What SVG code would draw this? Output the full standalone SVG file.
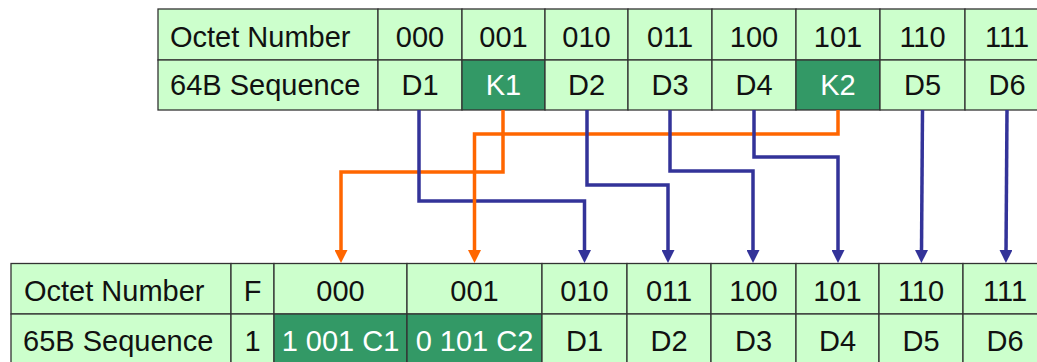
<svg xmlns="http://www.w3.org/2000/svg" width="1037" height="362" viewBox="0 0 1037 362">
<style>
.c{fill:#ccffcc;stroke:#333333;stroke-width:1.3}
.k{fill:#339966;stroke:#333333;stroke-width:1.3}
.t{font-family:"Liberation Sans",Arial,sans-serif;font-size:29px;fill:#111111}
.tm{text-anchor:middle}
.w{fill:#ffffff}
.b{fill:none;stroke:#333399;stroke-width:3.5}
.o{fill:none;stroke:#ff6600;stroke-width:3.5}
</style>
<defs>
<marker id="ab" viewBox="0 0 13 13" refX="2" refY="6.5" markerWidth="13" markerHeight="13" markerUnits="userSpaceOnUse" orient="auto"><path d="M0,0 L13,6.5 L0,13 z" fill="#333399"/></marker>
<marker id="ao" viewBox="0 0 13 13" refX="2" refY="6.5" markerWidth="13" markerHeight="13" markerUnits="userSpaceOnUse" orient="auto"><path d="M0,0 L13,6.5 L0,13 z" fill="#ff6600"/></marker>
</defs>
<g id="table64">
<rect class="c" x="158" y="9" width="220" height="51"/>
<rect class="c" x="158" y="60" width="220" height="50"/>
<text class="t" x="170" y="47">Octet Number</text>
<text class="t" x="170" y="95">64B Sequence</text>
<g id="t64-000"><rect class="c" x="378" y="9" width="84" height="51"/><rect class="c" x="378" y="60" width="84" height="50"/><text class="t tm" x="420" y="47">000</text><text class="t tm" x="420" y="95">D1</text></g>
<g id="t64-001"><rect class="c" x="462" y="9" width="83" height="51"/><rect class="k" x="462" y="60" width="83" height="50"/><text class="t tm" x="503.5" y="47">001</text><text class="t tm w" x="503.5" y="95">K1</text></g>
<g id="t64-010"><rect class="c" x="545" y="9" width="83" height="51"/><rect class="c" x="545" y="60" width="83" height="50"/><text class="t tm" x="586.5" y="47">010</text><text class="t tm" x="586.5" y="95">D2</text></g>
<g id="t64-011"><rect class="c" x="628" y="9" width="84" height="51"/><rect class="c" x="628" y="60" width="84" height="50"/><text class="t tm" x="670" y="47">011</text><text class="t tm" x="670" y="95">D3</text></g>
<g id="t64-100"><rect class="c" x="712" y="9" width="84" height="51"/><rect class="c" x="712" y="60" width="84" height="50"/><text class="t tm" x="754" y="47">100</text><text class="t tm" x="754" y="95">D4</text></g>
<g id="t64-101"><rect class="c" x="796" y="9" width="84" height="51"/><rect class="k" x="796" y="60" width="84" height="50"/><text class="t tm" x="838" y="47">101</text><text class="t tm w" x="838" y="95">K2</text></g>
<g id="t64-110"><rect class="c" x="880" y="9" width="85" height="51"/><rect class="c" x="880" y="60" width="85" height="50"/><text class="t tm" x="922.5" y="47">110</text><text class="t tm" x="922.5" y="95">D5</text></g>
<g id="t64-111"><rect class="c" x="965" y="9" width="84" height="51"/><rect class="c" x="965" y="60" width="84" height="50"/><text class="t tm" x="1007" y="47">111</text><text class="t tm" x="1007" y="95">D6</text></g>
</g>
<g id="table65">
<rect class="c" x="11" y="263.5" width="220" height="50.5"/>
<rect class="c" x="11" y="314" width="220" height="51"/>
<text class="t" x="24" y="301">Octet Number</text>
<text class="t" x="23" y="351">65B Sequence</text>
<g id="t65-f"><rect class="c" x="231" y="263.5" width="43" height="50.5"/><rect class="c" x="231" y="314" width="43" height="51"/><text class="t tm" x="252.5" y="301">F</text><text class="t tm" x="252.5" y="351">1</text></g>
<g id="t65-000"><rect class="c" x="274" y="263.5" width="133" height="50.5"/><rect class="k" x="274" y="314" width="133" height="51"/><text class="t tm" x="340.5" y="301">000</text><text class="t tm w" x="340.5" y="351">1 001 C1</text></g>
<g id="t65-001"><rect class="c" x="407" y="263.5" width="135" height="50.5"/><rect class="k" x="407" y="314" width="135" height="51"/><text class="t tm" x="474.5" y="301">001</text><text class="t tm w" x="474.5" y="351">0 101 C2</text></g>
<g id="t65-010"><rect class="c" x="542" y="263.5" width="85" height="50.5"/><rect class="c" x="542" y="314" width="85" height="51"/><text class="t tm" x="584.5" y="301">010</text><text class="t tm" x="584.5" y="351">D1</text></g>
<g id="t65-011"><rect class="c" x="627" y="263.5" width="84" height="50.5"/><rect class="c" x="627" y="314" width="84" height="51"/><text class="t tm" x="669" y="301">011</text><text class="t tm" x="669" y="351">D2</text></g>
<g id="t65-100"><rect class="c" x="711" y="263.5" width="85" height="50.5"/><rect class="c" x="711" y="314" width="85" height="51"/><text class="t tm" x="753.5" y="301">100</text><text class="t tm" x="753.5" y="351">D3</text></g>
<g id="t65-101"><rect class="c" x="796" y="263.5" width="83" height="50.5"/><rect class="c" x="796" y="314" width="83" height="51"/><text class="t tm" x="837.5" y="301">101</text><text class="t tm" x="837.5" y="351">D4</text></g>
<g id="t65-110"><rect class="c" x="879" y="263.5" width="84" height="50.5"/><rect class="c" x="879" y="314" width="84" height="51"/><text class="t tm" x="921" y="301">110</text><text class="t tm" x="921" y="351">D5</text></g>
<g id="t65-111"><rect class="c" x="963" y="263.5" width="84" height="50.5"/><rect class="c" x="963" y="314" width="84" height="51"/><text class="t tm" x="1005" y="301">111</text><text class="t tm" x="1005" y="351">D6</text></g>
</g>
<g id="connectors">
<path class="o" d="M503,110 V172 H341 V252" marker-end="url(#ao)"/>
<path class="b" d="M419,110 V201 H584.5 V252" marker-end="url(#ab)"/>
<path class="o" d="M838,110 V134 H474.5 V252" marker-end="url(#ao)"/>
<path class="b" d="M587,110 V185 H668 V252" marker-end="url(#ab)"/>
<path class="b" d="M670,110 V171 H753 V252" marker-end="url(#ab)"/>
<path class="b" d="M754,110 V157 H838 V252" marker-end="url(#ab)"/>
<path class="b" d="M922.5,110 L921.5,252" marker-end="url(#ab)"/>
<path class="b" d="M1007,110 L1006,252" marker-end="url(#ab)"/>
</g>
</svg>
